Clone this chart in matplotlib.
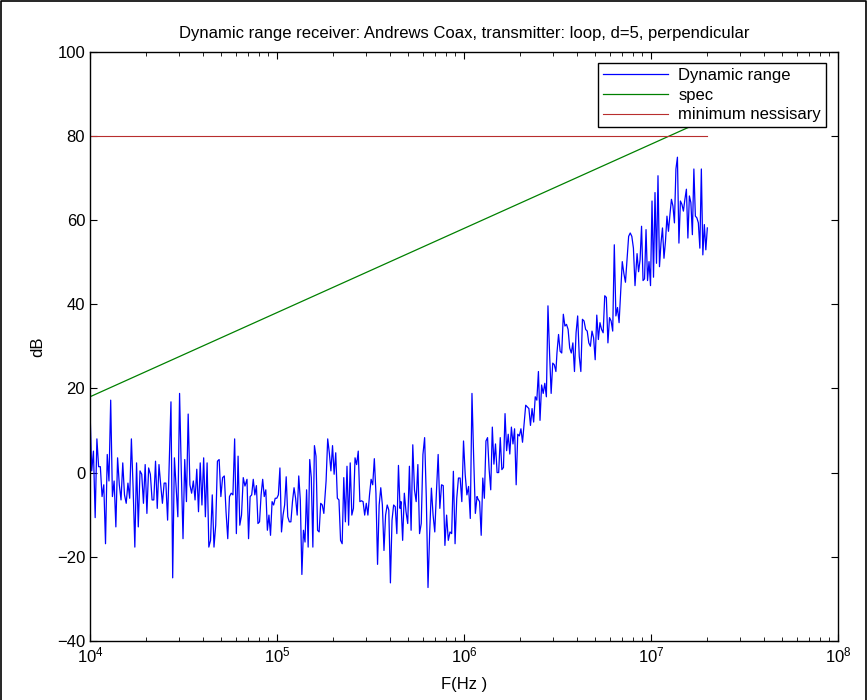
import numpy as np
import matplotlib
matplotlib.use('Agg')
import matplotlib.pyplot as plt
from matplotlib.lines import Line2D

plt.rcParams['font.family'] = ['Liberation Sans', 'DejaVu Sans']
plt.rcParams['mathtext.fontset'] = 'custom'
plt.rcParams['mathtext.rm'] = 'Liberation Sans'

# dynamic range (dB) in eight stretches of frequency
dr_1 = [15, 0.4, 5.1, -10.7, 8, 1.4, 1.4, -5.7, -2.9, -16.9, 4.3, -2, 17.2, -5.7, -2, -12.9,
        3.5, -2.9, -6.5, 2.3, -5.3, -7.3, -2.5, -6.1, 8, -3.6, -17.7, 2.3, -12.9, 0.4, -0.4,
        -7.3, 1.9, -9.7, 1.1, -0.4, -6.5, -6.5, 2.7, -8.5, 1.9, -2.9, -7.3, -2.5, -2.5, -11.3]
dr_2 = [16.8, -25, 3.5, -3.6, -10.5, 18.8, 0.4, -15.7, 3.1, -6.9, 13.9, -2.9, -4.9, -2, -6.5,
        0.8, -9.3, 2.3, -7.7, 3.5, -10.5, 2.3, -17.7, -16.1, -5.3, -17.7, -12.5, 2.7, 3.1,
        -5.7, -1.2, -0.8, -9.3, -15.7, -5.7, -4.9, -5.3, 8, -14.5, 3.9, -12.5, -10.1, -1.2, -3.2]
dr_3 = [-1.6, -15.7, -5.7, -5.3, -1.6, -5.3, -3.1, -12.1, -11.7, -5.3, -1.6, -5.7, -4.1, -13.7,
        -10.1, -14.9, -6.9, -7.7, -6.1, -6.1, -5.3, 1.1, -14.1, -10.1, -7.7, -1.0, -10.5, -11.7,
        -11.7, -6.9, -3.6, -6.1, -10.1, -0.8, -6.5, -24.2, -13.7, -16.5, -4.1, -17.7, 3.1, -1.2,
        -17.7, 6.4, 3.9, -13.7, -14.1, -7.3, -7.7, -9.7]
dr_4 = [-2, 8, 4.7, 0.4, 6.4, -0.4, 4.7, -6.1, -6.5, -16.1, -16.9, -1.2, -11.7, 1.5, -12.5, 2.3,
        -10.1, -8.5, 3.5, 1.9, 5.1, -6.9, -6.7, -6.9, -10.1, -7.3, -10.1, -5.3, -1.6, -2.9, 3.3,
        -4.9, -21.8, -7.7, -3.6, -7.7, -18.5, -10.1, -7.7, -8.9, -26.2, -11.3, -7.7, -8.1, -14.5,
        1.7, -8.5]
dr_5 = [-6.9, -16.1, -4.9, -9.3, -12.1, 1.5, -13.7, 6.6, -4.1, -6.9, 1.9, -14.5, -12.1, 4.3, 8.3,
        -6.1, -27.3, -14.1, -3.7, -10.1, -14.1, -4.5, 4.3, -8.5, -2.9, -3.1, -17.3, -10.1, -16.1,
        -14.1, -14.5, 0.3, -16.9, -6.1, -1.3, -1.3, -6.9, 7.5, -0.5, -5.3, -3.3, -10.9, 18.8, 3.6,
        -9.7, -5.7]
dr_6 = [-6.3, -6.9, -14.9, -1.3, -6.1, 7.5, 8.3, 0.7, -4.1, 10.8, 2.0, 6.8, 0.0, 0.0, 8.3, 0.7,
        1.2, 14.0, 5.2, 9.1, 4.4, 10.8, 6.8, 10.4, -2.9, 9.1, 8.7, 10.4, 7.2, 11.6, 16.0, 15.6,
        15.2, 11.2, 15.2, 12.0, 18.0, 17.2, 24.0, 12.4, 20.8, 18.8, 21.2, 18.0, 39.6, 28.4, 18.8,
        26.0, 25.6, 24.0]
dr_7 = [28.4, 32.8, 28.8, 28.4, 37.6, 34.8, 35.2, 34.0, 29.6, 28.4, 30.8, 24.0, 33.2, 37.2, 27.6,
        24.0, 36.4, 36.0, 34.0, 33.6, 30.8, 30.0, 33.6, 32.0, 26.8, 37.4, 31.6, 35.6, 34.0, 33.2,
        42.0, 41.6, 30.8, 36.8, 36.0, 33.6, 54.1, 37.2, 39.2, 35.6, 42.8, 50.1, 47.3, 45.2, 50.5,
        56.1, 56.9, 56.1, 53.3, 44.4]
dr_8 = [52.0, 47.7, 50.5, 58.5, 45.6, 46.0, 57.7, 45.6, 50.1, 44.4, 64.5, 46.4, 66.5, 49.7, 70.5,
        48.9, 54.5, 58.1, 50.9, 54.9, 60.9, 57.3, 61.3, 64.9, 63.3, 59.3, 72.1, 74.9, 54.5, 64.5,
        63.7, 62.1, 64.9, 67.3, 55.7, 65.7, 64.1, 56.5, 72.1, 60.9, 60.5, 59.3, 53.3, 72.1, 51.7,
        58.9, 52.9, 58.1]

# first and last frequency (Hz) of each stretch, log spaced inside it
seg_start = [1.0e4, 2.71e4, 6.91e4, 1.83e5, 4.60e5, 1.188e6, 3.14e6, 8.42e6]
seg_stop = [2.60e4, 6.74e4, 1.78e5, 4.55e5, 1.174e6, 3.10e6, 8.21e6, 2.0e7]

spec_f = [1e4, 2e7]
spec_db = [18, 84]
min_f = [1e4, 2e7]
min_db = [80, 80]

segs = [dr_1, dr_2, dr_3, dr_4, dr_5, dr_6, dr_7, dr_8]
dyn = np.concatenate([np.array(s) for s in segs])
freq = np.concatenate([np.logspace(np.log10(a), np.log10(b), len(s))
                       for a, b, s in zip(seg_start, seg_stop, segs)])

fig = plt.figure(figsize=(8.67, 7.0), dpi=100)
ax = fig.add_axes([0.1038, 0.0843, 0.8628, 0.8421])

ax.semilogx(freq, dyn, color=(0, 0, 1), lw=0.9, label='Dynamic range')
ax.semilogx(spec_f, spec_db, color=(0, 0.5, 0), lw=0.9, label='spec')
ax.semilogx(min_f, min_db, color=(0.72, 0.18, 0.18), lw=0.8, label='minimum nessisary')

ax.set_xlim(1e4, 1e8)
ax.set_ylim(-40, 100)
ax.set_yticks(range(-40, 101, 20))
ax.tick_params(which='both', direction='in', top=True, right=True, labelsize=12)
ax.tick_params(which='major', length=5, width=0.8)
ax.tick_params(which='minor', length=3, width=0.6)
for s in ax.spines.values():
    s.set_linewidth(1.0)

ax.set_title('Dynamic range receiver: Andrews Coax, transmitter: loop, d=5, perpendicular',
             fontsize=12, pad=10)
ax.set_xlabel('F(Hz )', fontsize=12, labelpad=8)
ax.set_ylabel('dB', fontsize=12, labelpad=8)

leg = ax.legend(loc='upper right', bbox_to_anchor=(0.984, 0.9805), borderaxespad=0,
                fontsize=12, handlelength=3.9, handletextpad=0.6, labelspacing=0.28,
                borderpad=0.3, fancybox=False, framealpha=1)
leg.get_frame().set_edgecolor('black')
leg.get_frame().set_linewidth(1.0)

# frame round the figure (left, top, right)
fig.add_artist(Line2D([0.001, 0.001, 0.999, 0.999], [0, 0.999, 0.999, 0],
                      transform=fig.transFigure, color='black', lw=1.2))

fig.savefig('out.png', dpi=100)
